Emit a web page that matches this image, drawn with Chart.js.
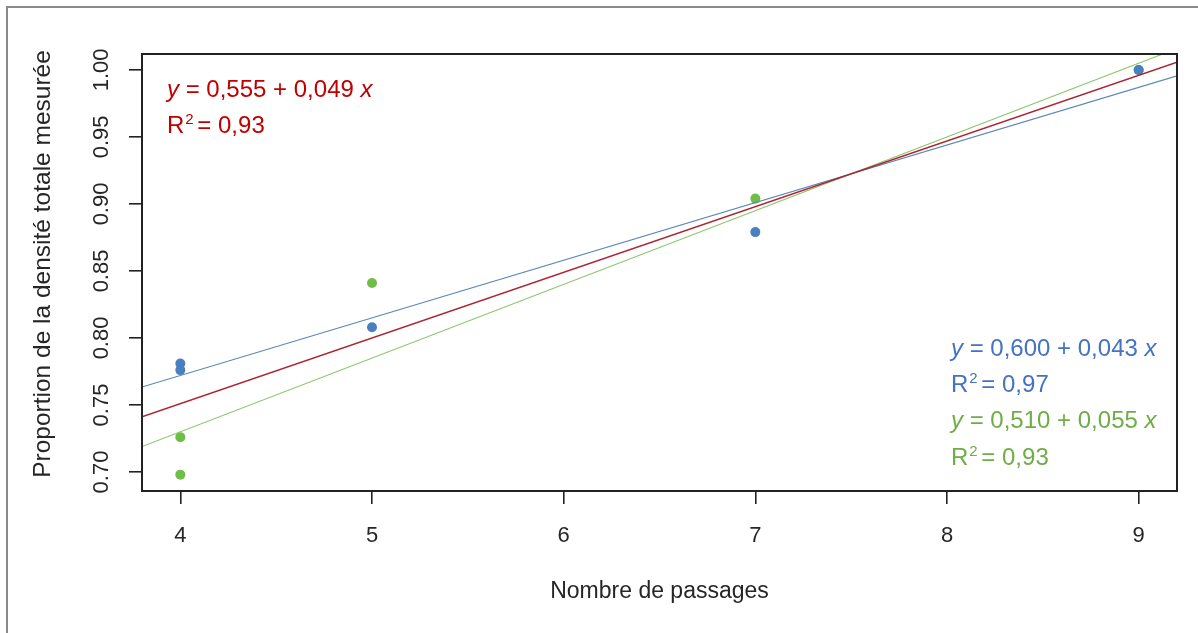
<!DOCTYPE html>
<html lang="fr">
<head>
<meta charset="utf-8">
<title>Proportion de la densité totale mesurée</title>
<script src="https://cdn.jsdelivr.net/npm/chart.js@4.4.1/dist/chart.umd.min.js"></script>
<style>
  html, body { margin: 0; padding: 0; background: #ffffff; }
  #wrap { position: relative; width: 1198px; height: 633px; }
</style>
</head>
<body>
<div id="wrap"><canvas id="chart" width="1198" height="633"></canvas></div>
<script>
// Nombre de passages et proportion de la densité mesurée, par série
const passagesBleu = [4, 4, 5, 7, 9];
const proportionBleu = [0.781, 0.776, 0.808, 0.879, 1.000];
const passagesVert = [4, 4, 5, 7, 9];
const proportionVert = [0.726, 0.698, 0.841, 0.904, 1.000];

// Droites de régression y = a + b x, et leur R²
const droiteRouge = [0.555, 0.049];
const droiteBleue = [0.600, 0.043];
const droiteVerte = [0.510, 0.055];
const r2Rouge = 0.93;
const r2Bleu = 0.97;
const r2Vert = 0.93;

// Axes
const xTicks = [4, 5, 6, 7, 8, 9];
const yTicks = [0.70, 0.75, 0.80, 0.85, 0.90, 0.95, 1.00];
const xRange = [3.8, 9.2];
const yRange = [0.6858, 1.0119];
const yTitle = 'Proportion de la densité totale mesurée';

const FONT = '"Liberation Sans", Arial, Helvetica, sans-serif';
const colors = {
    axis: '#222222',
    text: '#262626',
    red: '#c00000',
    redLine: '#ad2432',
    blue: '#4472c4',
    bluePoint: '#4a7fc0',
    blueLine: '#5b88b6',
    green: '#70ad47',
    greenPoint: '#6fbe48',
    greenLine: '#8cc56b',
    frame: '#8a8a8a'
};

const fmt = (v, d) => v.toFixed(d).replace('.', ',');

function lineDataset(coef, color, width) {
    return {
        data: xRange.map(x => ({ x: x, y: coef[0] + coef[1] * x })),
        showLine: true,
        borderColor: color,
        borderWidth: width,
        pointRadius: 0,
        fill: false
    };
}

function pointsDataset(xs, ys, color) {
    return {
        data: xs.map((x, i) => ({ x: x, y: ys[i] })),
        showLine: false,
        pointRadius: 5,
        pointBorderWidth: 0,
        backgroundColor: color,
        borderColor: color
    };
}

// y = a + b x with italic variables
function drawEquation(ctx, x, y, coef, color, size) {
    const parts = [
        ['y', 'italic '],
        [' = ' + fmt(coef[0], 3) + ' + ' + fmt(coef[1], 3) + ' ', ''],
        ['x', 'italic ']
    ];
    ctx.fillStyle = color;
    let cx = x;
    parts.forEach(([t, style]) => {
        ctx.font = style + size + 'px ' + FONT;
        ctx.fillText(t, cx, y);
        cx += ctx.measureText(t).width;
    });
}

function drawR2(ctx, x, y, r2, color, size) {
    ctx.fillStyle = color;
    ctx.font = size + 'px ' + FONT;
    ctx.fillText('R', x, y);
    let cx = x + ctx.measureText('R').width + 1;
    ctx.font = Math.round(size * 0.62) + 'px ' + FONT;
    ctx.fillText('2', cx, y - size * 0.38);
    cx += ctx.measureText('2').width;
    ctx.font = size + 'px ' + FONT;
    ctx.fillText(' = ' + fmt(r2, 2), cx - 3, y);
}

const annotations = {
    id: 'annotations',
    afterDraw(chart) {
        const { ctx, chartArea } = chart;
        const yScale = chart.scales.y;
        ctx.save();

        // plot box
        ctx.strokeStyle = colors.axis;
        ctx.lineWidth = 2;
        ctx.strokeRect(chartArea.left, chartArea.top,
            chartArea.right - chartArea.left, chartArea.bottom - chartArea.top);

        // outer frame, left and top edges
        ctx.strokeStyle = colors.frame;
        ctx.lineWidth = 2;
        ctx.beginPath();
        ctx.moveTo(7, chart.height);
        ctx.lineTo(7, 7);
        ctx.lineTo(chart.width, 7);
        ctx.stroke();

        // rotated y tick labels
        ctx.fillStyle = colors.text;
        ctx.font = '22px ' + FONT;
        ctx.textAlign = 'center';
        ctx.textBaseline = 'alphabetic';
        yTicks.forEach(v => {
            const py = yScale.getPixelForValue(v);
            ctx.save();
            ctx.translate(chartArea.left - 34, py);
            ctx.rotate(-Math.PI / 2);
            ctx.fillText(v.toFixed(2), 0, 0);
            ctx.restore();
        });

        // y axis title
        ctx.save();
        ctx.font = '24.5px ' + FONT;
        ctx.translate(50, 264);
        ctx.rotate(-Math.PI / 2);
        ctx.fillText(yTitle, 0, 0);
        ctx.restore();

        // regression equations
        ctx.textAlign = 'left';
        const left = chartArea.left + 25;
        drawEquation(ctx, left, 97, droiteRouge, colors.red, 24);
        drawR2(ctx, left, 133, r2Rouge, colors.red, 24);

        const right = chartArea.right - 226;
        drawEquation(ctx, right, 356, droiteBleue, colors.blue, 24);
        drawR2(ctx, right, 392, r2Bleu, colors.blue, 24);
        drawEquation(ctx, right, 428, droiteVerte, colors.green, 24);
        drawR2(ctx, right, 465, r2Vert, colors.green, 24);

        ctx.restore();
    }
};

new Chart(document.getElementById('chart'), {
    type: 'scatter',
    data: {
        datasets: [
            lineDataset(droiteRouge, colors.redLine, 1.6),
            lineDataset(droiteVerte, colors.greenLine, 1.1),
            lineDataset(droiteBleue, colors.blueLine, 1.2),
            pointsDataset(passagesBleu, proportionBleu, colors.bluePoint),
            pointsDataset(passagesVert, proportionVert, colors.greenPoint)
        ]
    },
    options: {
        responsive: false,
        animation: false,
        devicePixelRatio: 1,
        layout: { padding: { left: 0, top: 54, right: 21, bottom: 0 } },
        plugins: {
            legend: { display: false },
            tooltip: { enabled: false }
        },
        scales: {
            x: {
                type: 'linear',
                min: xRange[0],
                max: xRange[1],
                afterBuildTicks: s => { s.ticks = xTicks.map(v => ({ value: v })); },
                afterFit: s => { s.height = 142; },
                grid: { drawOnChartArea: false, drawTicks: true, tickLength: 13, color: colors.axis, lineWidth: 1.6 },
                border: { display: true, color: colors.axis, width: 2 },
                ticks: {
                    color: colors.text,
                    padding: 19,
                    font: { size: 22, family: FONT },
                    callback: v => String(v)
                },
                title: {
                    display: true,
                    text: 'Nombre de passages',
                    color: colors.text,
                    font: { size: 23, family: FONT },
                    padding: { bottom: 28 }
                }
            },
            y: {
                type: 'linear',
                min: yRange[0],
                max: yRange[1],
                afterBuildTicks: s => { s.ticks = yTicks.map(v => ({ value: v })); },
                afterFit: s => { s.width = 142; },
                grid: { drawOnChartArea: false, drawTicks: true, tickLength: 13, color: colors.axis, lineWidth: 1.6 },
                border: { display: true, color: colors.axis, width: 2 },
                ticks: { display: false }
            }
        }
    },
    plugins: [annotations]
});
</script>
</body>
</html>
